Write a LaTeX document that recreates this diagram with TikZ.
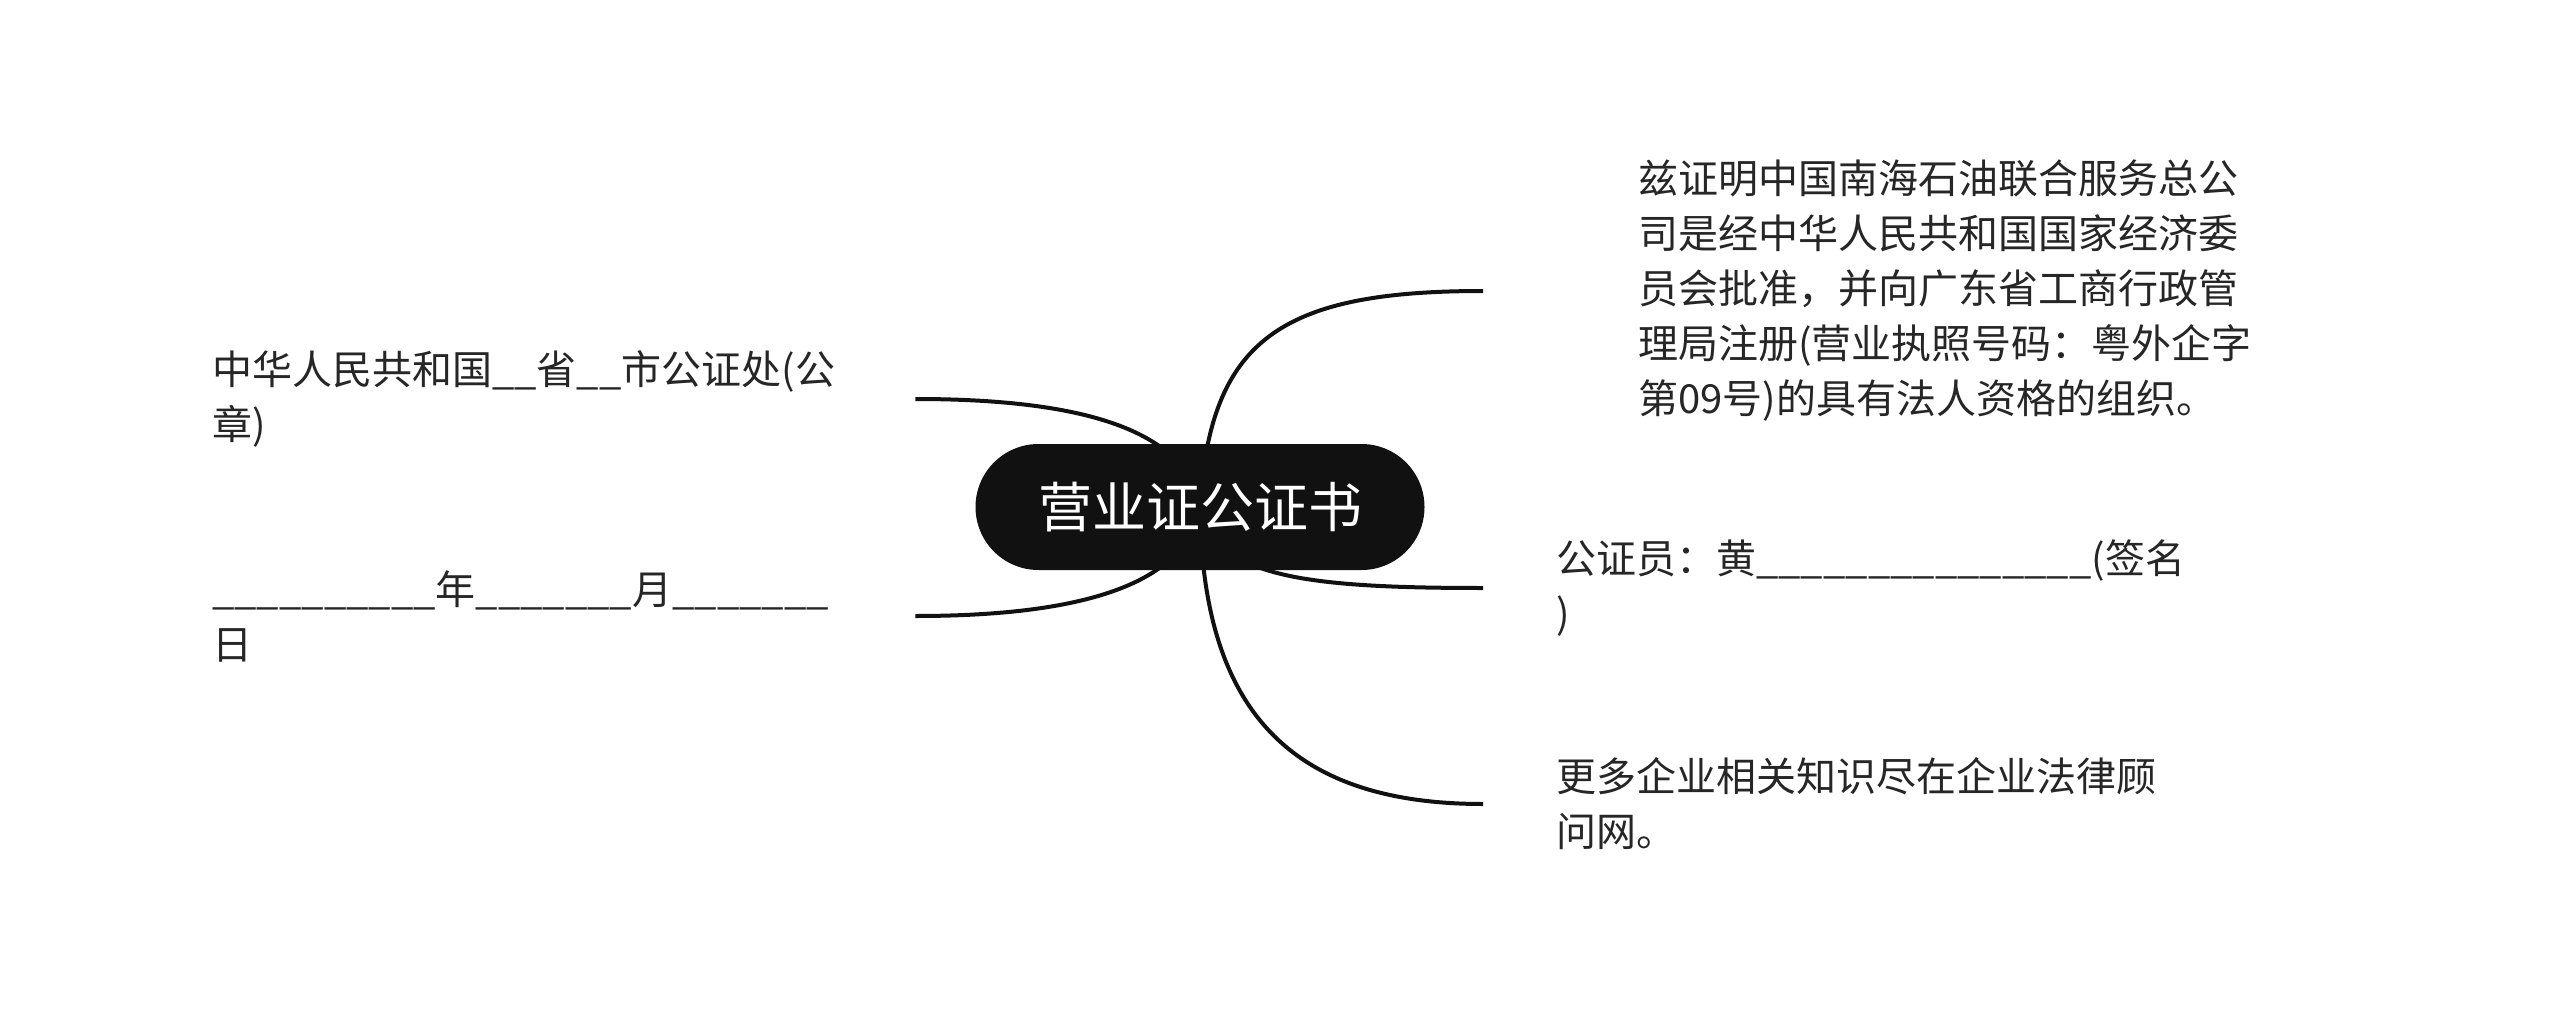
\documentclass[tikz,border=0pt]{standalone}
\usepackage{fontspec}
\setmainfont{Noto Sans CJK SC}
\definecolor{ink}{HTML}{111111}
\definecolor{txt}{HTML}{262626}
\pgfdeclarelayer{back}
\pgfdeclarelayer{bg}
\pgfsetlayers{back,bg,main}
\begin{document}
\begin{tikzpicture}[x=1pt,y=-1pt,
  conn/.style={draw=ink,line width=4pt},
  leaf/.style={text=txt,font=\fontsize{40}{55}\selectfont,align=left,inner ysep=0pt},
  rootnode/.style={fill=ink,text=white,rounded corners=63pt,minimum width=449pt,minimum height=126pt,inner sep=0pt,font=\fontsize{54}{60}\selectfont}]
\begin{pgfonlayer}{back}
\fill[white] (0,0) rectangle (2560,1014);
\end{pgfonlayer}
\useasboundingbox (0,0) rectangle (2560,1014);

\node[rootnode] (root) at (1200,507) {营业证公证书};

\node[leaf,anchor=west,text width=703pt,inner xsep=0pt] (l1) at (212,399)
  {中华人民共和国\_\_省\_\_市公证处(公\\章)};
\node[leaf,anchor=west,text width=703pt,inner xsep=0pt] (l2) at (212,616)
  {\_\_\_\_\_\_\_\_\_\_年\_\_\_\_\_\_\_月\_\_\_\_\_\_\_\\日};

\node[leaf,anchor=west,inner xsep=155pt] (r1) at (1483,291)
  {兹证明中国南海石油联合服务总公\\司是经中华人民共和国国家经济委\\员会批准，并向广东省工商行政管\\理局注册(营业执照号码：粤外企字\\第09号)的具有法人资格的组织。};
\node[leaf,anchor=west,inner xsep=73pt] (r2) at (1483,588)
  {公证员：黄\_\_\_\_\_\_\_\_\_\_\_\_\_\_\_(签名\\)};
\node[leaf,anchor=west,inner xsep=73pt] (r3) at (1483,804)
  {更多企业相关知识尽在企业法律顾\\问网。};

\begin{pgfonlayer}{bg}
\draw[conn] (root.center) .. controls (1187,434) and (1093,399) .. (l1.east);
\draw[conn] (root.center) .. controls (1187,580) and (1093,616) .. (l2.east);
\draw[conn] (root.center) .. controls (1210,340) and (1280,291) .. (r1.west);
\draw[conn] (root.center) .. controls (1215,576) and (1300,588) .. (r2.west);
\draw[conn] (root.center) .. controls (1202,710) and (1290,804) .. (r3.west);
\end{pgfonlayer}
\end{tikzpicture}
\end{document}
